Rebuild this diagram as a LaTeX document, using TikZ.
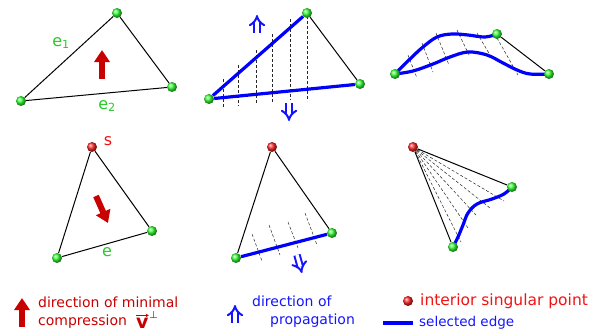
\documentclass[tikz,border=0pt]{standalone}
\usepackage{amsmath}
\usepackage{fontspec}
\setmainfont{DejaVu Sans}
\usetikzlibrary{arrows.meta}
\pgfdeclarelayer{bg}
\pgfsetlayers{bg,main}
\definecolor{vgreen}{RGB}{40,200,40}
\definecolor{cred}{RGB}{200,0,0}
\definecolor{sred}{RGB}{240,20,20}
\definecolor{pblue}{RGB}{20,20,255}

\begin{document}
\begin{tikzpicture}[x=1pt, y=-1pt, vtx/.style={circle, inner sep=0pt, minimum size=10pt, ball color=green!80}, sing/.style={vtx, ball color=red!85}, sel/.style={blue, line width=3.2pt}, edge/.style={black, line width=1pt}, hatch/.style={black!85, line width=0.5pt, dash pattern=on 3pt off 2pt}, comp/.style={cred, line width=6pt, -{Triangle[length=12pt,width=15pt]}}, lbl/.style={vgreen, font=\fontsize{16}{16}\selectfont}, propa/.style={pblue, double, double distance=3.4pt, line width=2pt, -{Implies}}]
  \useasboundingbox (0,0) rectangle (600,335);
  % top row
  \node[vtx] (a1) at (117,13) {}; \node[vtx] (b1) at (21,101) {}; \node[vtx] (c1) at (172,87) {};
  \node[vtx] (a2) at (307,13) {}; \node[vtx] (b2) at (209,99) {}; \node[vtx] (c2) at (360,84) {};
  \node[vtx] (a3) at (497,34) {}; \node[vtx] (b3) at (395,74) {}; \node[vtx] (c3) at (549,74) {};
  % bottom row
  \node[sing] (a4) at (92,147) {}; \node[vtx] (b4) at (57,258) {}; \node[vtx] (c4) at (152,231) {};
  \node[sing] (a5) at (272,147) {}; \node[vtx] (b5) at (236,258) {}; \node[vtx] (c5) at (332,233) {};
  \node[sing] (a6) at (413,147) {}; \node[vtx] (b6) at (453,247) {}; \node[vtx] (c6) at (512,187) {};
  \begin{pgfonlayer}{bg}
    \draw[edge] (a1) -- (b1); \draw[edge] (b1) -- (c1); \draw[edge] (c1) -- (a1);
    \foreach \x/\p/\q in {223/79/107, 238/65/106, 256/50/103, 272/34/102, 290/19/100, 307/16/101} \draw[hatch] (\x,\p) -- (\x,\q);
    \draw[sel] (b2) -- (a2); \draw[sel] (b2) -- (c2); \draw[edge] (a2) -- (c2);
    \foreach \p/\q in {{(408,55)/(417,78)}, {(422,43)/(433,72)}, {(436,33)/(449,65)}, {(457,30)/(470,57)}, {(477,33)/(490,55)}, {(497,38)/(518,75)}} \draw[hatch] \p -- \q;
    \draw[sel] plot[smooth, tension=0.6] coordinates {(b3.center) (410,59) (423,47) (437,37) (452,34) (468,35) (485,37) (a3.center)};
    \draw[sel] plot[smooth, tension=0.6] coordinates {(b3.center) (413,71) (433,64) (450,57) (468,52) (487,55) (503,63) (517,70) (530,74) (c3.center)};
    \draw[edge] (a3) -- (c3);
    \draw[edge] (a4) -- (b4); \draw[edge] (b4) -- (c4); \draw[edge] (c4) -- (a4);
    \foreach \p/\q in {{(252,234)/(262,261)}, {(269,225)/(280,255)}, {(288,222)/(298,248)}, {(305,213)/(317,245)}} \draw[hatch] \p -- \q;
    \draw[edge] (a5) -- (b5); \draw[edge] (a5) -- (c5); \draw[sel] (b5) -- (c5);
    \foreach \q in {(461,242), (468,228), (476,215), (490,208), (504,201)} \draw[hatch] (a6.center) -- \q;
    \draw[edge] (a6) -- (b6); \draw[edge] (a6) -- (c6);
    \draw[sel] plot[smooth, tension=0.6] coordinates {(b6.center) (458,237) (463,225) (468,213) (477,204) (492,199) (504,194) (c6.center)};
  \end{pgfonlayer}
  % labels and arrows
  \node[lbl] (e1) at (61,43) {e\textsubscript{1}};
  \node[lbl] (e2) at (107,106) {e\textsubscript{2}};
  \node[lbl] (e) at (107,252) {e};
  \node[lbl, sred] (s) at (108,141) {s};
  \coordinate (m1) at (102,79); \coordinate (n1) at (102,50);
  \draw[comp] (m1) -- (n1);
  \coordinate (m4) at (96,196); \coordinate (n4) at (108,223);
  \draw[comp] (m4) -- (n4);
  \coordinate (p2) at (257,33); \coordinate (q2) at (257,15);
  \draw[propa] (p2) -- (q2);
  \coordinate (r2) at (289,103); \coordinate (t2) at (289,121);
  \draw[propa] (r2) -- (t2);
  \coordinate (r5) at (297,255); \coordinate (t5) at (302,273);
  \draw[propa] (r5) -- (t5);
  % legend
  \coordinate (m0) at (22,327); \coordinate (n0) at (22,298);
  \draw[comp] (m0) -- (n0);
  \node[cred, anchor=west, align=left, inner sep=0pt, font=\fontsize{14}{18}\selectfont] (lcomp) at (38,313) {direction of minimal\\compression};
  \node[cred, anchor=base west, inner sep=0pt, font=\fontsize{19}{19}\selectfont\bfseries] (vv) at (136,328) {v};
  \node[cred, anchor=west, inner sep=0pt, font=\fontsize{10}{10}\selectfont] (perp) at (149,315) {⊥};
  \draw[cred, line width=0.9pt, -{Stealth[length=3pt,width=3.5pt]}] ([yshift=2pt]vv.north west) -- ([yshift=2pt]vv.north east);
  \coordinate (p0) at (235,323); \coordinate (q0) at (235,305);
  \draw[propa] (p0) -- (q0);
  \node[pblue, anchor=west, align=left, inner sep=0pt, font=\fontsize{14}{18}\selectfont] (lprop) at (252,312) {direction of\\\hspace*{18pt}propagation};
  \node[sing] (lsing) at (408,301) {};
  \node[sred, anchor=west, inner sep=0pt, font=\fontsize{15.5}{15.5}\selectfont] (ltsing) at (420,301) {interior singular point};
  \coordinate (ls) at (383,323); \coordinate (lt) at (413,323);
  \draw[sel] (ls) -- (lt);
  \node[pblue, anchor=west, inner sep=0pt, font=\fontsize{13.5}{13.5}\selectfont] (lsel) at (419,323) {selected edge};
\end{tikzpicture}
\end{document}
